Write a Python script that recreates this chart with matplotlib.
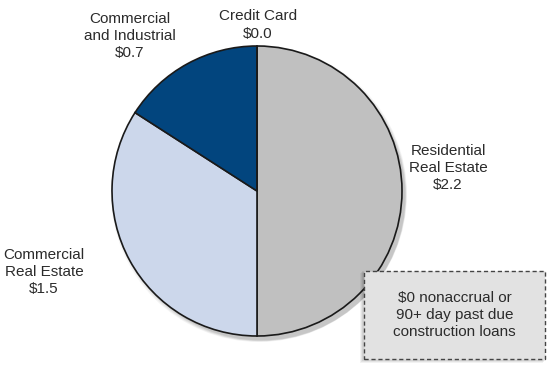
import matplotlib
matplotlib.use("Agg")
import matplotlib.pyplot as plt
from matplotlib.patches import Circle, Rectangle

plt.rcParams["font.family"] = ["Liberation Sans", "DejaVu Sans"]

# Nonaccrual / 90+ day past due balances ($ billions)
categories = ["Residential\nReal Estate", "Commercial\nReal Estate",
              "Commercial\nand Industrial", "Credit Card"]
values = [2.2, 1.5, 0.7, 0.0]
colors = ["#c0c0c0", "#ccd7eb", "#02457e", "#8a8a8a"]
note = "$0 nonaccrual or\n90+ day past due\nconstruction loans"

W, H = 547, 369
fig = plt.figure(figsize=(W / 100, H / 100), dpi=100)
ax = fig.add_axes([0, 0, 1, 1])

cx, cy, r = 257, 178, 145

# soft drop shadow under the pie
for i, a in enumerate([0.04, 0.04, 0.05, 0.05, 0.06]):
    ax.add_patch(Circle((cx + 2 + i * 0.6, cy - 3 - i * 0.6), r + 3 - i,
                        facecolor="black", edgecolor="none", alpha=a, zorder=1))

ax.pie(values, colors=colors, startangle=90, counterclock=False,
       center=(cx, cy), radius=r, frame=True,
       wedgeprops=dict(edgecolor="#1a1a1a", linewidth=1.2, zorder=2))
ax.set_xlim(0, W)
ax.set_ylim(0, H)
ax.set_aspect("equal")
ax.axis("off")

txt = dict(ha="center", va="center", fontsize=11, color="#2b2b2b",
           linespacing=1.3, zorder=5)
ax.text(448, H - 168, f"{categories[0]}\n${values[0]:.1f}", **txt)
ax.text(44, H - 272, f"{categories[1]}\n${values[1]:.1f}", **txt)
ax.text(130, H - 36, f"{categories[2]}\n${values[2]:.1f}", **txt)
ax.text(258, H - 25, f"{categories[3]}\n${values[3]:.1f}", **txt)

# note box with dashed border and shadow
bx, by, bw, bh = 364, H - 359, 181, 88
for i, a in enumerate([0.05, 0.06, 0.07]):
    ax.add_patch(Rectangle((bx - 4 + i, by - 4 + i), bw + 2, bh + 2,
                           facecolor="black", edgecolor="none", alpha=a, zorder=3))
ax.add_patch(Rectangle((bx, by), bw, bh, facecolor="#e2e2e2",
                       edgecolor="#444444", linestyle=(0, (3, 2)),
                       linewidth=1.0, zorder=4))
ax.text(bx + bw / 2, by + bh / 2, note, **txt)

fig.savefig("out.png", dpi=100)
